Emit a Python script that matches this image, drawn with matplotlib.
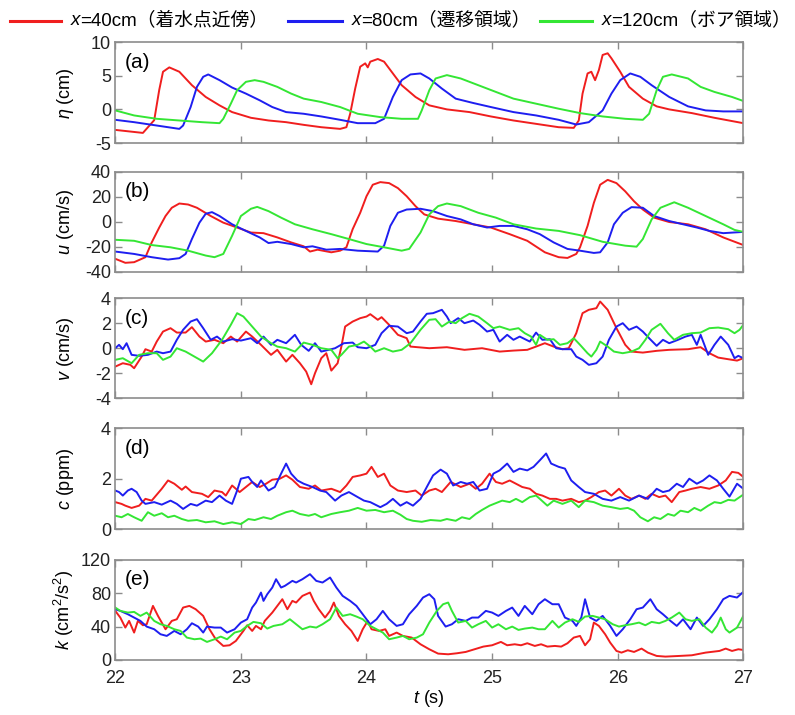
import matplotlib
matplotlib.use("Agg")
import matplotlib.pyplot as plt
from matplotlib.lines import Line2D
from matplotlib.text import Annotation

# data: (t [s], value) pairs for each probe
eta_40 = [(22.00,-3.05),(22.22,-3.5),(22.31,-1.6),(22.35,2.9),(22.38,5.6),(22.43,6.25),(22.51,5.6),(22.61,3.6),(22.72,1.85),(22.83,0.6),(22.93,-0.4),(23.08,-1.25),(23.22,-1.65),(23.36,-1.9),(23.50,-2.3),(23.64,-2.65),(23.79,-2.9),(23.84,-2.65),(23.87,-0.65),(23.91,3.1),(23.95,6.35),(23.99,6.85),(24.01,6.25),(24.03,7.1),(24.09,7.5),(24.14,7.1),(24.21,5.35),(24.28,3.6),(24.39,1.85),(24.50,0.6),(24.64,0.0),(24.82,-0.4),(24.99,-1.05),(25.17,-1.65),(25.35,-2.15),(25.53,-2.65),(25.65,-2.75),(25.69,-1.65),(25.72,2.35),(25.76,5.35),(25.79,5.6),(25.82,4.35),(25.85,5.85),(25.88,8.1),(25.92,8.35),(25.95,7.6),(26.02,5.6),(26.09,3.35),(26.20,1.6),(26.31,0.45),(26.41,0.0),(26.59,-0.55),(26.77,-1.25),(27.00,-2.05)]
eta_80 = [(22.00,-1.55),(22.15,-1.9),(22.33,-2.4),(22.51,-2.9),(22.54,-2.4),(22.60,0.35),(22.65,3.35),(22.70,4.85),(22.74,5.2),(22.83,4.35),(22.93,3.25),(23.04,2.35),(23.15,1.35),(23.25,0.35),(23.36,-0.4),(23.50,-0.65),(23.64,-1.05),(23.79,-1.55),(23.93,-2.05),(24.07,-2.05),(24.14,-1.4),(24.21,1.85),(24.28,4.35),(24.35,5.2),(24.43,5.35),(24.50,4.6),(24.60,3.1),(24.71,1.6),(24.85,0.95),(24.99,0.35),(25.17,-0.4),(25.35,-0.9),(25.53,-1.55),(25.67,-2.25),(25.77,-1.9),(25.88,-0.15),(25.95,2.35),(26.02,4.35),(26.10,5.35),(26.18,4.85),(26.27,3.6),(26.41,1.85),(26.56,0.45),(26.70,-0.15),(26.84,-0.3),(27.00,-0.3)]
eta_120 = [(22.00,-0.15),(22.15,-0.9),(22.33,-1.4),(22.51,-1.65),(22.69,-1.9),(22.83,-2.05),(22.86,-1.4),(22.92,0.85),(22.97,2.85),(23.04,4.1),(23.11,4.35),(23.18,4.1),(23.29,3.35),(23.40,2.35),(23.50,1.6),(23.64,1.1),(23.79,0.35),(23.93,-0.65),(24.11,-1.15),(24.28,-1.4),(24.41,-1.4),(24.44,-0.15),(24.50,2.85),(24.55,4.6),(24.64,5.1),(24.75,4.6),(24.89,3.6),(25.03,2.6),(25.17,1.6),(25.35,0.85),(25.53,0.1),(25.70,-0.55),(25.88,-1.05),(26.06,-1.4),(26.20,-1.55),(26.25,-0.65),(26.31,2.85),(26.36,4.85),(26.43,5.2),(26.56,4.6),(26.66,3.35),(26.77,2.6),(26.91,1.85),(27.00,1.25)]

u_40 = [(22.00,-29.7),(22.08,-32.9),(22.15,-32.4),(22.24,-28.4),(22.29,-16.6),(22.35,-4.7),(22.40,4.5),(22.45,11.1),(22.51,14.5),(22.58,13.7),(22.65,11.1),(22.76,4.5),(22.86,-0.8),(22.97,-4.7),(23.08,-8.7),(23.18,-9.2),(23.29,-12.6),(23.40,-16.6),(23.50,-19.7),(23.55,-23.9),(23.61,-22.4),(23.72,-24.5),(23.79,-23.2),(23.84,-20.5),(23.89,-6.0),(23.95,7.1),(24.00,20.3),(24.05,29.5),(24.11,31.6),(24.18,30.8),(24.25,26.8),(24.32,20.3),(24.39,12.4),(24.46,5.8),(24.57,2.4),(24.71,0.5),(24.85,-2.1),(24.99,-4.7),(25.14,-10.0),(25.28,-15.3),(25.42,-24.5),(25.53,-28.4),(25.60,-29.0),(25.67,-25.8),(25.70,-20.5),(25.76,-3.4),(25.81,15.0),(25.86,29.5),(25.92,33.4),(25.99,30.8),(26.06,24.2),(26.13,16.3),(26.20,9.7),(26.29,3.2),(26.41,-0.3),(26.56,-2.1),(26.70,-6.1),(26.84,-12.6),(27.00,-18.7)]
u_80 = [(22.00,-23.9),(22.15,-25.8),(22.29,-28.4),(22.42,-30.3),(22.51,-29.2),(22.56,-25.8),(22.61,-13.9),(22.67,-0.8),(22.72,6.3),(22.77,7.6),(22.83,4.5),(22.93,-2.1),(23.04,-7.4),(23.15,-12.6),(23.22,-17.1),(23.29,-16.1),(23.40,-17.9),(23.50,-20.5),(23.57,-19.7),(23.68,-22.4),(23.79,-21.8),(23.93,-23.2),(24.09,-23.9),(24.14,-19.2),(24.19,-3.4),(24.25,7.1),(24.32,9.7),(24.43,10.3),(24.53,8.4),(24.64,4.5),(24.75,1.8),(24.85,-2.1),(24.96,-4.7),(25.06,-3.4),(25.17,-3.4),(25.28,-6.1),(25.38,-10.0),(25.49,-16.6),(25.60,-21.8),(25.70,-23.2),(25.81,-25.0),(25.86,-24.5),(25.92,-16.6),(25.97,-2.1),(26.04,7.1),(26.11,11.6),(26.20,11.1),(26.29,4.5),(26.41,0.5),(26.52,-2.1),(26.63,-4.7),(26.73,-7.4),(26.84,-9.2),(27.00,-8.2)]
u_120 = [(22.00,-14.5),(22.15,-15.3),(22.29,-18.7),(22.44,-20.5),(22.58,-23.2),(22.72,-27.1),(22.79,-28.4),(22.86,-25.8),(22.93,-11.3),(23.00,4.5),(23.08,10.3),(23.13,11.8),(23.22,8.4),(23.32,3.2),(23.43,-2.1),(23.57,-6.1),(23.72,-10.0),(23.86,-13.9),(24.00,-17.9),(24.14,-20.5),(24.28,-23.2),(24.34,-21.8),(24.43,-8.7),(24.50,5.8),(24.57,12.4),(24.64,14.5),(24.75,12.4),(24.89,7.1),(25.03,3.2),(25.17,-2.1),(25.35,-5.5),(25.53,-7.4),(25.70,-10.8),(25.88,-16.1),(26.06,-19.2),(26.15,-20.0),(26.20,-13.9),(26.27,1.8),(26.34,11.1),(26.45,15.5),(26.56,11.1),(26.70,4.5),(26.84,-2.1),(26.93,-6.6),(27.00,-8.2)]

v_40 = [(22.00,-1.47),(22.06,-1.2),(22.12,-1.33),(22.15,-1.6),(22.21,-0.67),(22.24,-0.08),(22.29,-0.27),(22.33,0.53),(22.38,1.33),(22.44,1.6),(22.49,1.25),(22.56,1.25),(22.61,1.68),(22.67,0.93),(22.72,0.53),(22.79,0.67),(22.86,0.4),(22.92,0.93),(22.97,0.53),(23.04,1.33),(23.09,0.93),(23.16,0.27),(23.24,-0.53),(23.29,-0.13),(23.36,-1.07),(23.41,-0.53),(23.47,-1.2),(23.52,-1.87),(23.56,-2.88),(23.59,-2.0),(23.64,-0.8),(23.68,-0.4),(23.72,-1.79),(23.77,-1.2),(23.80,0.13),(23.83,1.73),(23.89,2.13),(23.95,2.4),(24.00,2.53),(24.03,2.72),(24.09,2.27),(24.12,2.48),(24.18,1.87),(24.25,1.07),(24.32,0.8),(24.35,0.13),(24.50,0.0),(24.64,0.08),(24.78,-0.13),(24.92,0.0),(25.06,-0.27),(25.17,-0.19),(25.28,-0.13),(25.35,0.13),(25.42,0.4),(25.49,0.13),(25.56,-0.08),(25.61,0.0),(25.67,1.2),(25.72,2.8),(25.77,3.07),(25.83,3.2),(25.86,3.73),(25.92,3.07),(25.99,1.6),(26.06,0.27),(26.11,-0.27),(26.20,-0.35),(26.31,-0.21),(26.41,-0.13),(26.56,-0.08),(26.66,0.08),(26.73,-0.4),(26.80,-0.75),(26.88,-0.88),(26.95,-0.99),(27.00,-0.8)]
v_80 = [(22.00,0.0),(22.03,0.27),(22.06,-0.08),(22.09,0.4),(22.13,-0.53),(22.19,-0.61),(22.26,-0.53),(22.33,-0.27),(22.38,-0.4),(22.44,-0.27),(22.49,0.67),(22.54,1.47),(22.60,2.13),(22.65,2.32),(22.70,1.6),(22.76,0.67),(22.81,0.93),(22.86,0.53),(22.93,0.72),(23.00,0.61),(23.08,0.8),(23.13,0.4),(23.18,0.93),(23.24,0.27),(23.29,0.67),(23.36,0.4),(23.43,1.07),(23.48,0.27),(23.54,-0.21),(23.59,0.4),(23.64,-0.27),(23.70,-0.13),(23.75,0.0),(23.82,0.4),(23.89,0.45),(23.93,0.08),(24.00,0.0),(24.07,0.27),(24.12,1.2),(24.18,1.79),(24.25,1.73),(24.32,1.2),(24.37,1.33),(24.43,2.13),(24.48,2.75),(24.53,2.8),(24.60,3.07),(24.64,2.53),(24.67,2.0),(24.73,2.4),(24.78,2.0),(24.85,2.21),(24.90,1.87),(24.96,1.33),(25.01,1.47),(25.06,0.53),(25.12,1.07),(25.17,0.67),(25.22,0.93),(25.30,0.53),(25.35,1.25),(25.40,0.67),(25.46,0.72),(25.51,0.0),(25.56,-0.08),(25.63,-0.08),(25.67,-0.67),(25.72,-0.93),(25.77,-1.33),(25.83,-1.2),(25.88,-0.67),(25.93,0.67),(25.99,1.73),(26.04,2.0),(26.09,1.47),(26.15,1.73),(26.20,1.33),(26.25,0.8),(26.31,0.19),(26.36,0.67),(26.41,0.4),(26.48,0.67),(26.54,0.93),(26.59,1.07),(26.63,0.27),(26.66,1.07),(26.72,-0.53),(26.77,0.27),(26.82,0.93),(26.88,0.27),(26.93,-0.8),(26.96,-0.61),(27.00,-0.8)]
v_120 = [(22.00,-0.93),(22.06,-0.8),(22.13,-1.2),(22.19,-0.53),(22.26,-0.4),(22.33,-0.4),(22.38,-0.93),(22.44,-0.67),(22.49,0.0),(22.56,-0.27),(22.63,-0.67),(22.70,-1.07),(22.77,-0.4),(22.85,0.67),(22.92,1.87),(22.97,2.8),(23.02,2.53),(23.09,1.73),(23.16,0.93),(23.24,0.4),(23.29,0.13),(23.36,0.0),(23.43,-0.27),(23.50,0.45),(23.57,0.27),(23.64,0.0),(23.72,-0.13),(23.77,-0.8),(23.80,-0.53),(23.86,0.13),(23.93,0.27),(23.98,0.53),(24.03,0.13),(24.07,-0.27),(24.14,0.0),(24.21,-0.27),(24.28,-0.13),(24.35,0.4),(24.43,1.47),(24.50,2.27),(24.55,2.32),(24.60,1.73),(24.66,2.13),(24.71,2.0),(24.76,2.4),(24.82,2.75),(24.89,2.53),(24.96,2.0),(25.01,1.6),(25.06,1.73),(25.14,1.47),(25.21,1.6),(25.26,1.2),(25.31,0.93),(25.35,0.27),(25.38,1.07),(25.44,0.67),(25.49,0.72),(25.54,0.27),(25.60,0.4),(25.65,0.8),(25.70,0.27),(25.76,-0.4),(25.79,-0.67),(25.83,-0.13),(25.86,0.53),(25.92,0.13),(25.97,-0.27),(26.04,-0.4),(26.11,-0.27),(26.17,0.0),(26.22,0.67),(26.27,1.47),(26.34,1.95),(26.40,1.2),(26.45,0.67),(26.52,1.07),(26.59,1.2),(26.66,1.25),(26.73,1.6),(26.80,1.65),(26.88,1.52),(26.93,1.2),(26.97,1.47),(27.00,1.87)]

c_40 = [(22.00,1.07),(22.05,1.0),(22.08,0.93),(22.13,0.84),(22.19,0.93),(22.24,1.2),(22.29,1.13),(22.37,1.6),(22.42,1.93),(22.47,1.8),(22.53,1.56),(22.56,1.69),(22.61,1.47),(22.69,1.4),(22.74,1.27),(22.79,1.53),(22.85,1.47),(22.88,1.33),(22.93,1.73),(22.99,1.47),(23.04,1.67),(23.09,1.87),(23.15,1.67),(23.20,1.8),(23.25,1.96),(23.31,2.0),(23.36,2.13),(23.41,1.96),(23.47,1.67),(23.54,1.6),(23.59,1.73),(23.64,1.53),(23.72,1.6),(23.79,1.47),(23.84,1.73),(23.89,2.07),(23.95,2.13),(24.00,2.2),(24.04,2.47),(24.09,2.07),(24.14,2.2),(24.19,1.73),(24.25,1.53),(24.32,1.47),(24.39,1.53),(24.44,1.33),(24.50,1.53),(24.55,1.6),(24.60,1.47),(24.67,1.87),(24.75,1.67),(24.82,1.8),(24.87,1.6),(24.92,1.8),(24.98,2.2),(25.03,1.87),(25.08,1.8),(25.14,1.93),(25.19,1.8),(25.24,1.67),(25.30,1.6),(25.35,1.4),(25.40,1.33),(25.46,1.2),(25.51,1.2),(25.56,1.13),(25.63,1.2),(25.69,1.07),(25.74,1.13),(25.79,1.27),(25.85,1.47),(25.90,1.53),(25.95,1.33),(26.01,1.6),(26.06,1.33),(26.11,1.2),(26.17,1.33),(26.22,1.2),(26.27,1.4),(26.33,1.27),(26.38,1.33),(26.43,1.07),(26.49,1.47),(26.54,1.53),(26.59,1.6),(26.66,1.67),(26.73,1.6),(26.80,1.73),(26.86,1.93),(26.91,2.27),(26.96,2.23),(27.00,2.07)]
c_80 = [(22.00,1.53),(22.03,1.47),(22.06,1.33),(22.10,1.53),(22.13,1.6),(22.17,1.47),(22.21,1.13),(22.24,1.0),(22.31,1.07),(22.37,0.97),(22.44,1.13),(22.49,1.0),(22.54,0.8),(22.60,1.0),(22.65,0.93),(22.72,1.13),(22.77,1.07),(22.83,1.33),(22.88,1.13),(22.93,1.0),(22.97,1.53),(23.00,2.0),(23.06,2.07),(23.09,1.87),(23.13,1.67),(23.16,1.93),(23.22,1.53),(23.27,1.67),(23.32,2.2),(23.36,2.6),(23.40,2.2),(23.45,1.93),(23.50,1.8),(23.57,1.67),(23.63,1.53),(23.68,1.47),(23.75,1.13),(23.80,1.33),(23.86,1.47),(23.93,1.27),(23.98,1.13),(24.03,1.07),(24.11,0.87),(24.16,1.0),(24.21,1.2),(24.27,0.93),(24.32,1.07),(24.37,0.93),(24.43,1.2),(24.48,1.67),(24.53,2.13),(24.59,2.36),(24.64,2.2),(24.69,1.73),(24.75,1.87),(24.80,1.8),(24.85,1.87),(24.90,1.53),(24.96,1.6),(25.01,2.2),(25.06,2.33),(25.12,2.6),(25.17,2.27),(25.22,2.4),(25.28,2.33),(25.33,2.47),(25.38,2.73),(25.43,3.0),(25.47,2.6),(25.53,2.47),(25.58,2.4),(25.63,1.93),(25.69,1.67),(25.74,1.47),(25.81,1.4),(25.88,1.2),(25.95,1.13),(26.02,1.27),(26.09,1.13),(26.17,1.33),(26.24,1.2),(26.31,1.6),(26.36,1.47),(26.41,1.53),(26.47,1.8),(26.52,1.67),(26.57,2.0),(26.63,1.8),(26.68,1.93),(26.73,2.13),(26.79,1.93),(26.84,1.6),(26.89,1.29),(26.95,1.8),(27.00,1.6)]
c_120 = [(22.00,0.53),(22.05,0.47),(22.10,0.6),(22.15,0.47),(22.21,0.33),(22.26,0.67),(22.31,0.53),(22.37,0.63),(22.42,0.47),(22.47,0.53),(22.53,0.4),(22.58,0.33),(22.65,0.36),(22.72,0.27),(22.79,0.31),(22.86,0.2),(22.93,0.27),(23.00,0.2),(23.06,0.4),(23.11,0.36),(23.18,0.47),(23.24,0.4),(23.29,0.53),(23.36,0.67),(23.41,0.73),(23.47,0.6),(23.54,0.53),(23.59,0.6),(23.64,0.47),(23.72,0.6),(23.79,0.67),(23.86,0.73),(23.93,0.84),(24.00,0.73),(24.07,0.76),(24.14,0.67),(24.21,0.73),(24.27,0.57),(24.32,0.4),(24.37,0.33),(24.44,0.29),(24.51,0.36),(24.59,0.33),(24.64,0.4),(24.71,0.33),(24.76,0.47),(24.82,0.4),(24.87,0.6),(24.92,0.76),(24.98,0.93),(25.03,1.03),(25.08,1.13),(25.14,1.07),(25.19,1.2),(25.24,1.07),(25.30,1.27),(25.35,1.33),(25.38,1.2),(25.44,0.93),(25.49,1.13),(25.56,1.0),(25.63,1.13),(25.69,0.87),(25.74,1.13),(25.81,1.07),(25.88,0.93),(25.95,0.87),(26.02,0.8),(26.08,0.84),(26.13,0.73),(26.18,0.47),(26.24,0.31),(26.29,0.47),(26.34,0.4),(26.40,0.6),(26.45,0.53),(26.50,0.73),(26.56,0.67),(26.61,0.84),(26.66,0.73),(26.72,0.93),(26.77,1.07),(26.82,1.03),(26.88,1.16),(26.93,1.13),(27.00,1.37)]

k_40 = [(22.00,58.8),(22.04,50.8),(22.08,38.8),(22.11,46.8),(22.15,32.8),(22.18,46.8),(22.22,41.6),(22.25,42.8),(22.30,64.8),(22.34,52.8),(22.40,36.8),(22.45,46.8),(22.49,48.8),(22.54,62.8),(22.59,64.8),(22.64,60.8),(22.70,52.8),(22.75,36.8),(22.80,24.8),(22.86,16.8),(22.91,17.6),(22.96,22.8),(23.02,34.8),(23.05,41.6),(23.09,34.8),(23.12,40.8),(23.16,36.8),(23.19,46.8),(23.25,56.8),(23.30,66.8),(23.33,72.8),(23.37,60.8),(23.41,70.8),(23.44,68.8),(23.49,76.8),(23.55,80.8),(23.58,70.8),(23.62,60.8),(23.67,50.8),(23.71,58.8),(23.74,68.8),(23.78,52.8),(23.83,42.8),(23.88,34.8),(23.93,22.8),(23.97,36.8),(24.01,46.8),(24.04,36.8),(24.10,34.8),(24.15,36.8),(24.18,28.8),(24.24,32.8),(24.29,28.8),(24.36,26.8),(24.43,18.8),(24.50,12.8),(24.57,7.6),(24.65,6.8),(24.72,8.0),(24.79,9.6),(24.86,12.8),(24.93,16.0),(25.00,17.6),(25.07,21.6),(25.12,17.6),(25.18,18.8),(25.23,17.6),(25.28,20.0),(25.34,16.8),(25.39,18.8),(25.44,16.0),(25.50,16.8),(25.55,16.0),(25.60,20.0),(25.65,26.8),(25.70,28.8),(25.74,17.6),(25.78,24.8),(25.81,44.8),(25.85,40.8),(25.90,30.8),(25.94,20.8),(25.99,10.8),(26.03,8.8),(26.08,11.6),(26.13,9.6),(26.19,13.6),(26.24,8.8),(26.31,4.8),(26.38,4.0),(26.49,4.8),(26.59,5.6),(26.70,8.8),(26.81,10.8),(26.86,13.6),(26.91,10.8),(26.96,12.8),(27.00,12.0)]
k_80 = [(22.00,60.8),(22.04,58.8),(22.10,54.8),(22.15,50.8),(22.20,46.8),(22.25,40.0),(22.31,36.8),(22.36,30.8),(22.41,28.8),(22.47,34.8),(22.52,30.8),(22.57,36.8),(22.61,44.0),(22.66,40.0),(22.70,32.8),(22.73,40.0),(22.79,38.8),(22.84,38.8),(22.89,32.8),(22.95,36.8),(23.00,44.8),(23.05,48.8),(23.09,62.8),(23.12,68.8),(23.16,80.8),(23.18,70.8),(23.21,78.8),(23.25,86.8),(23.28,96.8),(23.32,86.8),(23.35,88.8),(23.41,94.8),(23.44,92.8),(23.49,96.8),(23.55,102.8),(23.60,94.8),(23.65,92.8),(23.71,98.8),(23.76,86.8),(23.81,76.8),(23.87,70.8),(23.92,64.8),(23.97,54.8),(24.03,42.8),(24.08,48.8),(24.13,58.8),(24.18,48.8),(24.24,40.8),(24.29,42.8),(24.34,54.8),(24.40,64.8),(24.45,74.8),(24.50,78.8),(24.54,72.8),(24.57,52.8),(24.63,40.0),(24.68,42.8),(24.73,48.8),(24.79,46.8),(24.84,50.8),(24.89,50.8),(24.95,58.8),(25.00,56.8),(25.05,52.8),(25.11,58.8),(25.16,62.8),(25.21,52.8),(25.26,64.8),(25.32,54.8),(25.37,66.8),(25.42,72.8),(25.48,66.8),(25.53,66.8),(25.58,50.8),(25.64,46.8),(25.67,40.8),(25.71,50.8),(25.74,72.8),(25.78,50.8),(25.83,46.8),(25.88,52.8),(25.94,40.8),(25.99,28.8),(26.04,36.8),(26.10,48.8),(26.15,60.8),(26.20,62.8),(26.26,72.8),(26.31,60.8),(26.36,54.8),(26.42,46.8),(26.47,40.8),(26.52,48.8),(26.58,36.8),(26.63,50.8),(26.68,40.8),(26.73,48.8),(26.79,60.8),(26.84,72.8),(26.89,76.8),(26.95,74.8),(27.00,81.6)]
k_120 = [(22.00,62.8),(22.04,58.8),(22.10,56.8),(22.15,57.6),(22.20,52.8),(22.25,56.8),(22.31,46.8),(22.36,42.8),(22.41,40.8),(22.47,36.8),(22.52,34.8),(22.57,26.8),(22.63,24.8),(22.68,25.6),(22.73,21.6),(22.79,24.8),(22.84,28.0),(22.89,24.8),(22.95,32.8),(23.00,34.8),(23.05,40.8),(23.10,45.6),(23.16,44.0),(23.21,37.6),(23.26,40.8),(23.33,42.8),(23.39,48.8),(23.44,42.8),(23.49,36.8),(23.55,40.0),(23.60,38.8),(23.65,42.8),(23.71,48.8),(23.76,62.8),(23.81,52.8),(23.87,54.8),(23.92,52.0),(23.97,48.8),(24.03,40.8),(24.08,36.8),(24.13,32.8),(24.18,24.8),(24.24,26.8),(24.29,28.8),(24.34,24.8),(24.40,26.8),(24.45,30.8),(24.50,44.8),(24.56,58.8),(24.61,66.8),(24.65,68.8),(24.68,58.8),(24.73,44.8),(24.79,46.8),(24.84,38.8),(24.89,42.8),(24.95,46.8),(25.00,38.8),(25.05,42.8),(25.11,36.8),(25.16,40.0),(25.21,36.0),(25.26,37.6),(25.32,38.8),(25.37,36.8),(25.42,36.8),(25.48,46.8),(25.53,38.8),(25.58,44.8),(25.64,48.8),(25.69,45.6),(25.74,52.0),(25.80,52.8),(25.85,50.8),(25.90,48.8),(25.96,42.8),(26.01,40.0),(26.06,41.6),(26.11,42.8),(26.17,44.8),(26.22,41.6),(26.27,45.6),(26.33,44.0),(26.38,46.8),(26.43,50.8),(26.49,56.8),(26.54,48.8),(26.59,46.8),(26.65,48.8),(26.70,38.8),(26.75,32.8),(26.79,40.8),(26.82,50.8),(26.86,36.8),(26.89,32.8),(26.95,38.8),(27.00,52.8)]

panel_tags = ["(a)", "(b)", "(c)", "(d)", "(e)"]
y_labels = [r"$\eta$ (cm)", r"$u$ (cm/s)", r"$v$ (cm/s)", r"$c$ (ppm)", r"$k$ (cm$^2$/s$^2$)"]
y_ticks = [[-5, 0, 5, 10], [-40, -20, 0, 20, 40], [-4, -2, 0, 2, 4], [0, 2, 4], [0, 40, 80, 120]]
x_ticks = [22, 23, 24, 25, 26, 27]
legend_names = ["=40cm（着水点近傍）", "=80cm（遷移領域）", "=120cm（ボア領域）"]

RED, BLUE, GREEN = "#f01e1e", "#1e1ef0", "#34e634"
FRAME = "#8c8c8c"

plt.rcParams["font.family"] = ["Liberation Sans", "Noto Sans CJK JP"]
plt.rcParams["mathtext.fontset"] = "custom"
plt.rcParams["mathtext.rm"] = "Liberation Sans"
plt.rcParams["mathtext.it"] = "Liberation Sans:italic"
plt.rcParams["axes.unicode_minus"] = False

fig = plt.figure(figsize=(7.95, 7.15), dpi=100)

# panel boxes in figure fractions (top to bottom)
boxes = [(0.145, 0.800, 0.790, 0.141),
         (0.145, 0.620, 0.790, 0.140),
         (0.145, 0.443, 0.790, 0.140),
         (0.145, 0.260, 0.790, 0.141),
         (0.145, 0.077, 0.790, 0.140)]
series = [(eta_40, eta_80, eta_120), (u_40, u_80, u_120), (v_40, v_80, v_120),
          (c_40, c_80, c_120), (k_40, k_80, k_120)]

for i, box in enumerate(boxes):
    ax = fig.add_axes(box)
    for data, col in zip(series[i], (RED, BLUE, GREEN)):
        t, val = zip(*data)
        ax.plot(t, val, color=col, lw=1.4)
    ax.set_xlim(22, 27)
    ax.set_ylim(y_ticks[i][0], y_ticks[i][-1])
    ax.set_yticks(y_ticks[i])
    ax.set_xticks(x_ticks)
    ax.tick_params(direction="in", top=True, right=True, length=5, width=1,
                   color=FRAME, labelsize=13, labelcolor="#222222", pad=3)
    ax.tick_params(axis="x", pad=7)
    for s in ax.spines.values():
        s.set_color(FRAME)
        s.set_linewidth(1.2)
    ax.set_ylabel(y_labels[i], fontsize=13)
    ax.yaxis.set_label_coords(-0.062, 0.5)
    ax.text(0.015, 0.80, panel_tags[i], transform=ax.transAxes,
            fontsize=15, ha="left", va="center")
    if i < len(boxes) - 1:
        ax.tick_params(labelbottom=False)
    else:
        ax.set_xlabel(r"$t$ (s)", fontsize=13, labelpad=1)

# legend row across the top
line_spans = [(0.012, 0.077), (0.362, 0.430), (0.679, 0.745)]
for (x0, x1), col, name in zip(line_spans, (RED, BLUE, GREEN), legend_names):
    fig.add_artist(Line2D([x0, x1], [0.970, 0.970], color=col, lw=2.2,
                          transform=fig.transFigure))
    tx = fig.text(x1 + 0.012, 0.972, "x", style="italic", fontsize=13.5,
                  ha="left", va="center")
    fig.add_artist(Annotation(name, xy=(1, 0.5), xycoords=tx, fontsize=13.5,
                              ha="left", va="center"))

fig.savefig("out.png", dpi=100)
